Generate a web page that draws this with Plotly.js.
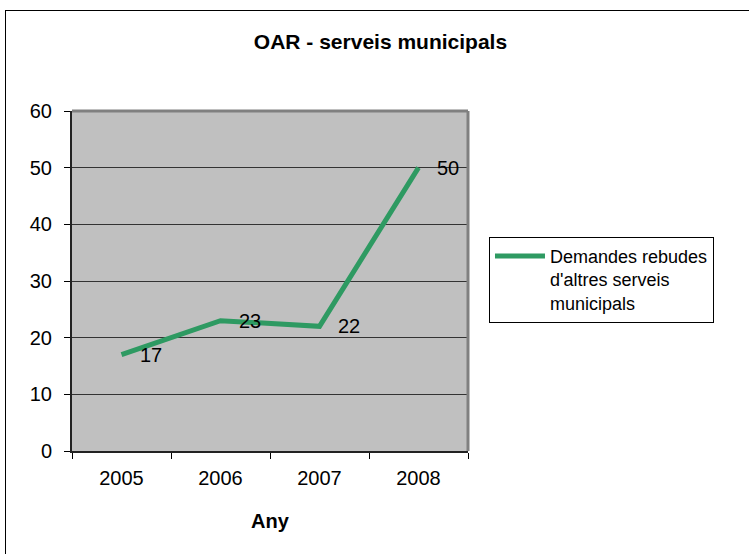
<!DOCTYPE html>
<html>
<head>
<meta charset="utf-8">
<script src="https://cdn.plot.ly/plotly-3.0.1.min.js"></script>
<style>
  html, body { margin: 0; padding: 0; background: #fff; overflow: hidden; }
  #frame { position: absolute; left: 5px; top: 10px; width: 900px; height: 700px; border-left: 1px solid #000; border-top: 1px solid #000; }
  #chart { position: absolute; left: 0; top: 0; width: 749px; height: 554px; }
</style>
</head>
<body>
<div id="frame"></div>
<div id="chart"></div>
<script>
const years = ['2005', '2006', '2007', '2008'];
const demandes = [17, 23, 22, 50];
const seriesName = "Demandes rebudes<br>d'altres serveis<br>municipals";
const yTicks = [0, 10, 20, 30, 40, 50, 60];

const font = 'Liberation Sans, Arial, sans-serif';

const trace = {
  x: years,
  y: demandes,
  type: 'scatter',
  mode: 'lines',
  name: seriesName,
  line: { color: '#2e9a62', width: 5 },
  hoverinfo: 'skip'
};

// category axis: annotation x uses the category serial number
const annotations = years.map((yr, i) => ({
  x: i, y: demandes[i], xref: 'x', yref: 'y',
  text: String(demandes[i]), showarrow: false,
  xanchor: 'left', yanchor: 'middle', xshift: 16,
  font: { family: font, size: 20, color: '#000' }
}));

const layout = {
  width: 749, height: 554,
  margin: { l: 72, r: 281, t: 111, b: 103 },
  paper_bgcolor: 'rgba(0,0,0,0)',
  plot_bgcolor: '#c0c0c0',
  font: { family: font, size: 20, color: '#000' },
  title: { text: '<b>OAR - serveis municipals</b>', font: { family: font, size: 21, color: '#000' }, x: 0.508, xanchor: 'center', y: 0.924, yanchor: 'middle' },
  showlegend: true,
  legend: {
    x: 1.053, y: 0.63, xanchor: 'left', yanchor: 'top',
    bgcolor: '#fff', bordercolor: '#000', borderwidth: 1,
    font: { family: font, size: 18, color: '#000' },
    itemwidth: 50,
    valign: 'top',
    tracegroupgap: 0
  },
  xaxis: {
    type: 'category',
    categoryorder: 'array', categoryarray: years,
    range: [-0.5, 3.5], autorange: false,
    tickson: 'boundaries',
    tickangle: 0,
    ticks: 'outside', ticklen: 6, tickcolor: '#000', tickwidth: 1,
    showline: true, linecolor: '#222', linewidth: 2,
    showgrid: false, zeroline: false,
    tickfont: { family: font, size: 20 },
    ticklabelstandoff: 8,
    title: { text: '<b>Any</b>', font: { family: font, size: 20 }, standoff: 26 }
  },
  yaxis: {
    range: [0, 60], autorange: false, tickvals: yTicks,
    ticks: 'outside', ticklen: 6, tickcolor: '#000', tickwidth: 1,
    showline: true, linecolor: '#222', linewidth: 2,
    showgrid: true, gridcolor: '#333', gridwidth: 1,
    zeroline: false,
    tickfont: { family: font, size: 20 },
    ticklabelstandoff: 8
  },
  shapes: [
    { type: 'line', xref: 'paper', yref: 'paper', x0: 0, x1: 1, y0: 1, y1: 1, line: { color: '#808080', width: 3 } },
    { type: 'line', xref: 'paper', yref: 'paper', x0: 1, x1: 1, y0: 0, y1: 1, line: { color: '#808080', width: 3 } }
  ],
  annotations: annotations
};

Plotly.newPlot('chart', [trace], layout, { staticPlot: true, displayModeBar: false });
</script>
</body>
</html>
